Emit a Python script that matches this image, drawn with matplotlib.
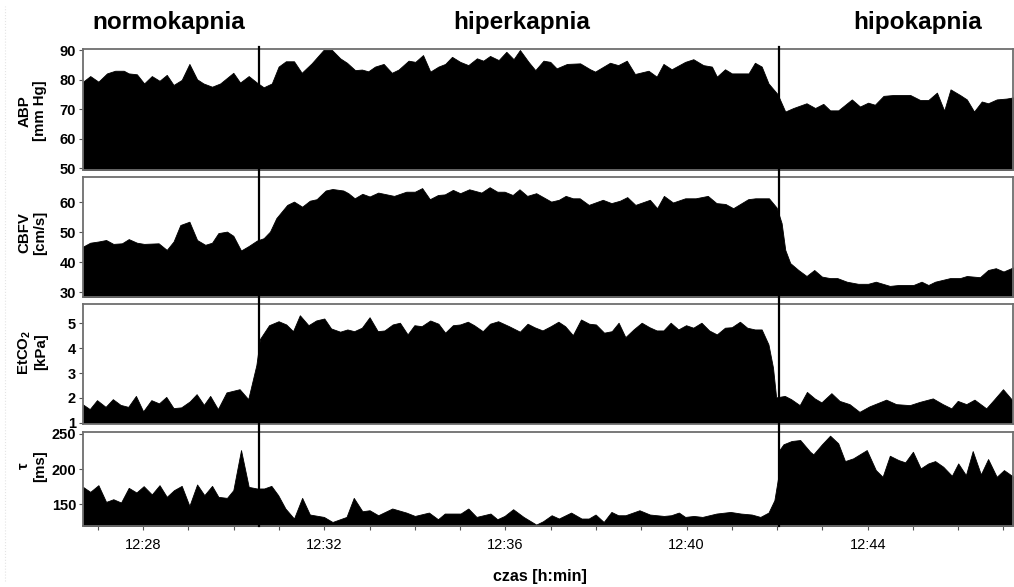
import numpy as np
import matplotlib
matplotlib.use("Agg")
import matplotlib.pyplot as plt
from matplotlib.lines import Line2D
from matplotlib.ticker import FixedLocator, MultipleLocator, FuncFormatter
import matplotlib.transforms as mtransforms

plt.rcParams['font.family'] = ['Liberation Sans', 'DejaVu Sans']
plt.rcParams['mathtext.fontset'] = 'custom'
plt.rcParams['mathtext.rm'] = 'Liberation Sans:bold'
plt.rcParams['mathtext.bf'] = 'Liberation Sans:bold'

# czas w minutach po 12:00
phase_names = ['normokapnia', 'hiperkapnia', 'hipokapnia']
phase_borders = [30.55, 42.04]
x_range = (26.67, 47.21)

abp_t = [26.67, 26.83, 27.01, 27.20, 27.38, 27.57, 27.68, 27.86, 28.02, 28.19, 28.36, 28.52,
         28.67, 28.85, 29.02, 29.19, 29.33, 29.52, 29.70, 29.99, 30.14, 30.33, 30.51, 30.66,
         30.84, 30.99, 31.15, 31.33, 31.50, 31.72, 31.98, 32.17, 32.35, 32.50, 32.68, 32.83,
         32.97, 33.12, 33.31, 33.49, 33.64, 33.86, 34.01, 34.18, 34.34, 34.52, 34.67, 34.82,
         35.00, 35.18, 35.37, 35.51, 35.66, 35.85, 36.02, 36.18, 36.32, 36.51, 36.66, 36.84,
         36.99, 37.13, 37.36, 37.65, 37.87, 37.98, 38.31, 38.49, 38.68, 38.86, 39.16, 39.34,
         39.49, 39.67, 39.97, 40.15, 40.37, 40.56, 40.67, 40.85, 41.00, 41.37, 41.51, 41.66,
         41.81, 42.01, 42.18, 42.36, 42.65, 42.84, 43.02, 43.17, 43.35, 43.65, 43.83, 44.01,
         44.16, 44.35, 44.57, 44.94, 45.16, 45.34, 45.53, 45.69, 45.83, 46.04, 46.19, 46.35,
         46.52, 46.66, 46.85, 47.07, 47.22]
abp_v = [79.3, 81.2, 79.3, 82.1, 83.0, 83.0, 82.1, 81.8, 78.7, 81.2, 79.6, 81.6,
         78.2, 79.9, 85.3, 80.1, 78.7, 77.6, 78.7, 82.3, 79.0, 81.2, 79.0, 77.4,
         78.7, 84.4, 86.2, 86.2, 82.3, 85.5, 90.0, 90.0, 87.2, 85.7, 83.2, 83.4,
         82.8, 84.4, 85.3, 82.3, 83.4, 86.4, 86.0, 88.3, 82.7, 84.4, 85.3, 87.7,
         86.0, 84.9, 87.2, 86.4, 88.0, 86.6, 89.4, 86.9, 90.0, 86.0, 83.2, 86.4,
         86.0, 83.8, 85.3, 85.5, 83.5, 82.7, 85.7, 84.9, 86.4, 81.9, 83.0, 81.0,
         85.3, 83.5, 86.0, 86.9, 84.9, 84.4, 81.0, 83.5, 82.1, 82.1, 85.7, 84.4,
         78.7, 75.1, 69.2, 70.4, 72.0, 70.4, 71.8, 69.6, 69.6, 73.3, 70.9, 72.2,
         71.5, 74.5, 74.8, 74.8, 73.1, 73.1, 75.6, 69.5, 76.7, 74.8, 73.3, 69.2,
         72.6, 72.0, 73.3, 73.6, 74.0]

cbfv_t = [26.67, 26.83, 27.01, 27.18, 27.34, 27.53, 27.68, 27.86, 28.02, 28.34, 28.52, 28.67,
          28.82, 29.02, 29.19, 29.37, 29.52, 29.66, 29.85, 29.99, 30.16, 30.33, 30.51, 30.66,
          30.80, 30.94, 31.18, 31.33, 31.51, 31.68, 31.83, 32.03, 32.18, 32.42, 32.53, 32.67,
          32.84, 33.00, 33.19, 33.54, 33.81, 34.00, 34.16, 34.33, 34.51, 34.66, 34.84, 35.00,
          35.20, 35.47, 35.65, 35.82, 35.98, 36.16, 36.31, 36.48, 36.68, 37.01, 37.18, 37.33,
          37.49, 37.64, 37.84, 38.15, 38.34, 38.53, 38.69, 38.87, 39.19, 39.35, 39.50, 39.70,
          39.97, 40.20, 40.47, 40.66, 40.86, 41.03, 41.36, 41.52, 41.82, 41.99, 42.10, 42.18,
          42.29, 42.47, 42.65, 42.82, 42.99, 43.17, 43.33, 43.54, 43.79, 44.01, 44.18, 44.49,
          44.68, 45.01, 45.19, 45.34, 45.49, 45.82, 46.04, 46.19, 46.48, 46.66, 46.83, 47.00,
          47.22]
cbfv_v = [45.2, 46.5, 46.9, 47.4, 46.1, 46.3, 47.7, 46.5, 46.1, 46.3, 44.1, 46.9,
          52.4, 53.5, 47.4, 45.8, 46.5, 49.7, 50.2, 48.8, 43.9, 45.4, 47.2, 48.0,
          50.2, 54.7, 59.1, 60.2, 58.5, 60.5, 61.0, 63.9, 64.4, 63.9, 63.0, 61.3,
          62.8, 61.9, 63.2, 62.1, 63.5, 63.5, 64.7, 61.0, 62.4, 62.6, 64.1, 63.0,
          64.3, 63.2, 65.0, 63.5, 63.5, 62.4, 64.3, 62.1, 63.0, 60.2, 60.8, 62.1,
          61.3, 61.3, 59.1, 60.8, 59.7, 60.5, 61.7, 59.1, 60.8, 58.0, 62.1, 59.9,
          61.3, 61.3, 62.1, 59.7, 59.4, 58.0, 61.0, 61.3, 61.3, 58.2, 53.0, 44.1,
          39.7, 37.4, 35.4, 37.4, 35.2, 34.7, 34.7, 33.5, 32.8, 32.8, 33.5, 32.1,
          32.4, 32.4, 33.5, 32.4, 33.5, 34.7, 34.7, 35.4, 35.0, 37.4, 38.0, 36.9,
          38.3]

etco2_t = [26.67, 26.83, 26.99, 27.18, 27.34, 27.51, 27.68, 27.85, 28.01, 28.19, 28.36, 28.52,
           28.68, 28.85, 29.04, 29.19, 29.35, 29.49, 29.66, 29.85, 30.14, 30.33, 30.51, 30.59,
           30.79, 31.00, 31.17, 31.32, 31.47, 31.66, 31.83, 32.01, 32.16, 32.36, 32.52, 32.67,
           32.84, 33.01, 33.19, 33.34, 33.52, 33.68, 33.85, 34.00, 34.16, 34.35, 34.53, 34.68,
           34.85, 35.01, 35.18, 35.32, 35.51, 35.67, 35.85, 36.09, 36.33, 36.50, 36.65, 36.83,
           37.01, 37.18, 37.33, 37.50, 37.68, 37.86, 38.01, 38.19, 38.36, 38.51, 38.66, 38.84,
           39.02, 39.19, 39.35, 39.50, 39.66, 39.83, 40.00, 40.16, 40.34, 40.51, 40.68, 40.86,
           41.01, 41.19, 41.35, 41.52, 41.67, 41.82, 41.92, 41.99, 42.18, 42.32, 42.51, 42.67,
           42.84, 42.99, 43.21, 43.39, 43.61, 43.83, 44.05, 44.42, 44.64, 44.94, 45.16, 45.45,
           45.67, 45.86, 46.00, 46.19, 46.37, 46.63, 46.81, 47.00, 47.22]
etco2_v = [1.73, 1.53, 1.89, 1.62, 1.93, 1.70, 1.62, 2.06, 1.44, 1.89, 1.76, 2.02,
           1.57, 1.60, 1.84, 2.13, 1.70, 2.06, 1.53, 2.20, 2.33, 1.93, 3.30, 4.35,
           4.90, 5.06, 4.93, 4.66, 5.30, 4.90, 5.09, 5.17, 4.77, 4.64, 4.73, 4.66,
           4.80, 5.22, 4.66, 4.69, 4.93, 5.00, 4.53, 4.90, 4.86, 5.09, 4.96, 4.60,
           4.90, 4.93, 5.04, 4.90, 4.66, 4.96, 5.06, 4.86, 4.64, 4.96, 4.82, 4.69,
           4.86, 5.04, 4.86, 4.50, 5.13, 4.96, 4.93, 4.60, 4.66, 5.00, 4.42, 4.73,
           5.00, 4.82, 4.69, 4.69, 5.00, 4.73, 4.90, 4.80, 5.00, 4.69, 4.53, 4.80,
           4.82, 5.04, 4.80, 4.73, 4.73, 4.13, 3.20, 2.00, 2.06, 1.93, 1.69, 2.22,
           1.96, 1.80, 2.17, 1.86, 1.73, 1.42, 1.64, 1.91, 1.73, 1.69, 1.82, 1.96,
           1.73, 1.56, 1.86, 1.73, 1.91, 1.56, 1.93, 2.33, 1.86]

tau_t = [26.67, 26.83, 27.01, 27.18, 27.34, 27.51, 27.68, 27.85, 28.01, 28.19, 28.36, 28.52,
         28.68, 28.85, 29.02, 29.19, 29.35, 29.52, 29.66, 29.85, 29.99, 30.16, 30.33, 30.51,
         30.67, 30.83, 30.98, 31.14, 31.33, 31.51, 31.68, 31.99, 32.18, 32.49, 32.65, 32.84,
         33.00, 33.19, 33.50, 33.81, 34.00, 34.31, 34.51, 34.66, 35.01, 35.18, 35.36, 35.67,
         35.82, 35.98, 36.17, 36.40, 36.68, 36.83, 37.02, 37.18, 37.45, 37.68, 37.84, 37.99,
         38.17, 38.34, 38.49, 38.65, 38.96, 39.19, 39.50, 39.66, 39.83, 39.97, 40.16, 40.35,
         40.66, 40.97, 41.20, 41.44, 41.63, 41.81, 41.94, 42.02, 42.05, 42.14, 42.32, 42.51,
         42.73, 42.80, 42.99, 43.17, 43.35, 43.50, 43.68, 43.98, 44.18, 44.33, 44.49, 44.68,
         44.83, 45.00, 45.17, 45.34, 45.49, 45.67, 45.86, 46.00, 46.17, 46.32, 46.50, 46.66,
         46.85, 47.01, 47.22]
tau_v = [174.7, 167.6, 177.1, 153.3, 157.1, 152.4, 173.3, 166.7, 175.7, 163.9, 177.1, 160.5,
         170.0, 176.1, 147.6, 178.1, 162.9, 176.1, 160.5, 159.0, 170.0, 227.1, 174.7, 172.4,
         172.4, 176.1, 162.9, 143.9, 129.6, 159.0, 135.3, 131.9, 124.7, 131.9, 159.0, 140.0,
         141.4, 134.3, 143.9, 138.1, 133.3, 138.1, 128.6, 136.7, 136.7, 143.9, 131.9, 136.7,
         128.6, 133.3, 142.9, 131.9, 121.0, 125.7, 134.3, 129.6, 138.1, 129.6, 129.6, 135.3,
         124.7, 139.0, 134.3, 134.3, 141.4, 135.3, 133.3, 134.3, 138.1, 131.9, 133.3, 131.9,
         136.7, 139.0, 136.7, 135.3, 131.9, 138.1, 155.7, 186.7, 227.1, 235.3, 240.0, 241.4,
         224.7, 221.0, 235.3, 247.6, 236.7, 211.4, 215.3, 227.1, 198.6, 189.0, 219.0, 212.9,
         209.6, 224.7, 201.0, 208.1, 211.4, 203.3, 190.5, 208.1, 191.4, 225.7, 192.4, 214.3,
         189.0, 198.6, 189.0]

W, H = 1014, 587
fig = plt.figure(figsize=(W / 100, H / 100), dpi=100)


def rect(top, bottom):
    return [83 / W, 1 - bottom / H, 930 / W, (bottom - top) / H]


panels = [
    (abp_t, abp_v, (49.6, 90.25), [50, 60, 70, 80, 90], rect(49.3, 169.5)),
    (cbfv_t, cbfv_v, (28.3, 68.3), [30, 40, 50, 60], rect(177.3, 297.3)),
    (etco2_t, etco2_v, (0.94, 5.76), [1, 2, 3, 4, 5], rect(304.3, 424.3)),
    (tau_t, tau_v, (119.4, 252.4), [150, 200, 250], rect(432.3, 525.7)),
]

axes = []
for t, v, ylim, yt, r in panels:
    ax = fig.add_axes(r)
    ax.fill_between(t, v, ylim[0] - 100, color='black', lw=0.6, edgecolor='black')
    ax.set_xlim(*x_range)
    ax.set_ylim(*ylim)
    ax.yaxis.set_major_locator(FixedLocator(yt))
    ax.tick_params(axis='y', direction='out', length=3, width=0.8, color='#555555',
                   pad=2, labelsize=10.5)
    for lab in ax.get_yticklabels():
        lab.set_fontweight('bold')
    for s in ax.spines.values():
        s.set_color('#6e6e6e')
        s.set_linewidth(1.3)
    ax.set_xticks([])
    axes.append(ax)

# os czasu tylko na dolnym panelu
axb = axes[-1]
axb.xaxis.set_major_locator(MultipleLocator(4))
axb.xaxis.set_minor_locator(MultipleLocator(1))
axb.xaxis.set_major_formatter(FuncFormatter(lambda m, p: f"12:{int(round(m)):02d}"))
axb.tick_params(axis='x', which='both', direction='out', length=3, width=0.8,
                color='#555555', pad=6, labelsize=10.5)

# linie granic faz przez wszystkie panele
trans = mtransforms.blended_transform_factory(axb.transData, fig.transFigure)
for xb in phase_borders:
    fig.add_artist(Line2D([xb, xb], [1 - 47 / H, 1 - 526 / H], transform=trans,
                          color='black', lw=1.6, zorder=5))

# podpisy faz
for name, xc in zip(phase_names, [169, 522, 918]):
    fig.text(xc / W, 1 - 22 / H, name, ha='center', va='center',
             fontsize=17.5, fontweight='bold')

# opisy osi y
ylabels = [
    ('ABP\n[mm Hg]', 111),
    ('CBFV\n[cm/s]', 233),
    ('EtCO$_\\mathbf{2}$\n[kPa]', 352),
    ('\u03c4\n[ms]', 466),
]
for txt, yc in ylabels:
    fig.text(32 / W, 1 - yc / H, txt, rotation=90, ha='center', va='center',
             multialignment='center', fontsize=10.8, fontweight='bold', linespacing=1.15)

fig.text(540 / W, 1 - 577 / H, 'czas [h:min]', ha='center', va='center',
         fontsize=11.5, fontweight='bold')

fig.add_artist(Line2D([5 / W, 5 / W], [0.01, 0.99], transform=fig.transFigure,
                      color='#e4e4e4', lw=0.8, ls=':'))

fig.savefig('out.png', dpi=100)
